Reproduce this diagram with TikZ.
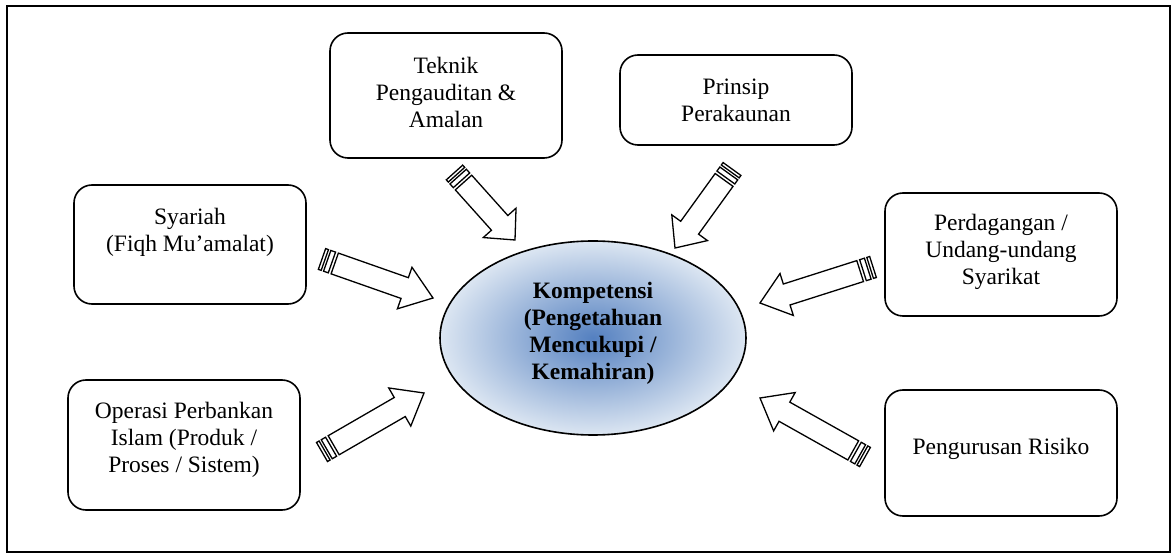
\documentclass[tikz,border=0pt]{standalone}
\usepackage{fontspec}
\setmainfont{Liberation Serif}
\usetikzlibrary{calc,shapes.geometric}
\definecolor{shadein}{RGB}{84,128,192}
\definecolor{shadeout}{RGB}{220,230,242}
\tikzset{
  box/.style={draw, fill=white, line width=1.6pt, rounded corners=18pt,
    minimum width=232pt, inner sep=0pt},
  txt/.style={align=center, inner sep=0pt, font=\fontsize{23.5}{27}\selectfont},
  sarrow/.style={draw, fill=white, line width=1.3pt, line join=miter},
  frame/.style={draw, line width=2pt}
}
\newcommand\stripedarrow[3]{%
  \draw[sarrow] ($(#1)!11pt!90:(#2)$) -- ($(#1)!3pt!(#2)!11pt!90:(#2)$)
     -- ($(#1)!3pt!(#2)!11pt!-90:(#2)$) -- ($(#1)!11pt!-90:(#2)$) -- cycle;
  \draw[sarrow] ($(#1)!5.5pt!(#2)!11pt!90:(#2)$) -- ($(#1)!10.5pt!(#2)!11pt!90:(#2)$)
     -- ($(#1)!10.5pt!(#2)!11pt!-90:(#2)$) -- ($(#1)!5.5pt!(#2)!11pt!-90:(#2)$) -- cycle;
  \draw[sarrow] ($(#1)!13.5pt!(#2)!11pt!90:(#2)$)
     -- ($(#2)!#3pt!(#1)!11pt!90:(#2)$)
     -- ($(#2)!#3pt!(#1)!22pt!90:(#2)$)
     -- (#2)
     -- ($(#2)!#3pt!(#1)!22pt!-90:(#2)$)
     -- ($(#2)!#3pt!(#1)!11pt!-90:(#2)$)
     -- ($(#1)!13.5pt!(#2)!11pt!-90:(#2)$) -- cycle;
}
\begin{document}
\begin{tikzpicture}[x=1pt,y=-1pt]
\useasboundingbox (0,0) rectangle (1171,553);
\path[frame] (7,6) rectangle (1169.5,551.5);

% boxes
\node[box, minimum height=125pt] (teknik) at (446,95.5) {};
\node[txt] (teknikt) at (446,92) {Teknik\\Pengauditan \&\\Amalan};

\node[box, minimum height=90pt] (prinsip) at (736,100) {};
\node[txt] (prinsipt) at (736,100) {Prinsip\\Perakaunan};

\node[box, minimum height=119pt] (syariah) at (190,244.5) {};
\node[txt] (syariaht) at (190,232) {Syariah\\(Fiqh Mu’amalat)};

\node[box, minimum height=123pt] (perdag) at (1001,254.5) {};
\node[txt] (perdagt) at (1001,252) {Perdagangan /\\Undang-undang\\Syarikat};

\node[box, minimum height=130pt] (operasi) at (184,445) {};
\node[txt] (operasit) at (184,440) {Operasi Perbankan\\Islam (Produk /\\Proses / Sistem)};

\node[box, minimum height=126pt] (urus) at (1001,453) {};
\node[txt] (urust) at (1001,449) {Pengurusan Risiko};

% central ellipse
\node[ellipse, draw, line width=1.6pt, minimum width=306pt, minimum height=194pt,
      inner color=shadein, outer color=shadeout] (komp) at (593,338) {};
\node[txt, font=\fontsize{23.5}{27}\selectfont\bfseries] (kompt) at (593,333)
  {Kompetensi\\(Pengetahuan\\Mencukupi /\\Kemahiran)};

% arrows
\coordinate (a1t) at (322,259);   \coordinate (a1h) at (433,298);
\coordinate (a2t) at (454.5,172.5); \coordinate (a2h) at (515,240);
\coordinate (a3t) at (732,169);   \coordinate (a3h) at (675,248);
\coordinate (a4t) at (873,267);   \coordinate (a4h) at (760,303);
\coordinate (a5t) at (865,457);   \coordinate (a5h) at (760,398);
\coordinate (a6t) at (322,452);   \coordinate (a6h) at (424,393);
\stripedarrow{a1t}{a1h}{30}
\stripedarrow{a2t}{a2h}{23}
\stripedarrow{a3t}{a3h}{25}
\stripedarrow{a4t}{a4h}{28}
\stripedarrow{a5t}{a5h}{28}
\stripedarrow{a6t}{a6h}{28}
\end{tikzpicture}
\end{document}
